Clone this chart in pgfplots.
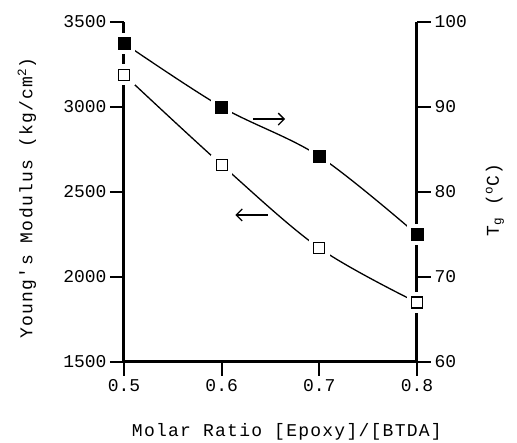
\documentclass[border=0pt]{standalone}
\usepackage{fontspec}
\setmainfont{Liberation Mono}
\newfontfamily\lblfont[LetterSpace=7]{Liberation Mono}
\usepackage{pgfplots}
\pgfplotsset{compat=1.18}
\usetikzlibrary{arrows.meta}
\pgfplotsset{
  base/.style={
    scale only axis, width=293pt, height=340pt,
    xmin=0.5, xmax=0.8, clip=false,
    /pgf/number format/assume math mode=true,
    tick label style={font=\fontsize{18}{18}\selectfont},
    tick align=outside,
    major tick length=14pt,
    every tick/.style={black, line width=2.2pt},
  },
}
\begin{document}
\begin{tikzpicture}
\path[use as bounding box] (-124pt,-81pt) rectangle (393pt,362pt);
% left axis: Young's modulus
\begin{axis}[base,
  ymin=1500, ymax=3500,
  axis x line*=bottom, axis y line*=left,
  axis line style={line width=3pt},
  xtick={0.5,0.6,0.7,0.8},
  xticklabel style={/pgf/number format/fixed, /pgf/number format/precision=1, /pgf/number format/fixed zerofill},
  ytick={1500,2000,2500,3000,3500},
  yticklabel style={/pgf/number format/1000 sep={}},
  xlabel={\lblfont Molar Ratio [Epoxy]/[BTDA]},
  ylabel={\lblfont Young's Modulus (kg/cm\textsuperscript{2})},
  every axis x label/.style={at={(axis description cs:0.556,-0.206)}, anchor=center, font=\fontsize{18}{18}\selectfont},
  every axis y label/.style={at={(axis description cs:-0.331,0.482)}, anchor=center, rotate=90, font=\fontsize{18}{18}\selectfont},
]
\addplot[black, line width=1.3pt, smooth, tension=0.55] coordinates {(0.5,3190)(0.6,2660)(0.7,2170)(0.8,1850)};
\draw[-{Straight Barb[length=6pt,width=12pt]}, line width=1.3pt] (axis cs:0.632,2929) -- (axis cs:0.665,2929);
\draw[-{Straight Barb[length=6pt,width=12pt]}, line width=1.3pt] (axis cs:0.647,2365) -- (axis cs:0.614,2365);
\end{axis}
% right axis: Tg
\begin{axis}[base,
  ymin=60, ymax=100,
  axis x line=none, axis y line*=right,
  axis line style={line width=3pt},
  ytick={60,70,80,90,100},
  ylabel={\lblfont T\textsubscript{g} (\textsuperscript{o}C)},
  every axis y label/.style={at={(axis description cs:1.266,0.476)}, anchor=center, rotate=90, font=\fontsize{18}{18}\selectfont},
]
\addplot[black, line width=1.3pt, smooth, tension=0.55] coordinates {(0.5,97.5)(0.6,90)(0.7,84.2)(0.8,75)};
\end{axis}
% overlay: modulus markers
\begin{axis}[base, ymin=1500, ymax=3500, hide axis]
\addplot[only marks, mark=square*, mark size=10pt, white] coordinates {(0.5,3190)(0.6,2660)(0.7,2170)(0.8,1850)};
\addplot[only marks, mark=square*, mark size=5.5pt, black, mark options={fill=white, line width=1.3pt}] coordinates {(0.5,3190)(0.6,2660)(0.7,2170)(0.8,1850)};
\end{axis}
% overlay: Tg markers
\begin{axis}[base, ymin=60, ymax=100, hide axis]
\addplot[only marks, mark=square*, mark size=10pt, white] coordinates {(0.5,97.5)(0.6,90)(0.7,84.2)(0.8,75)};
\addplot[only marks, mark=square*, mark size=6pt, black] coordinates {(0.5,97.5)(0.6,90)(0.7,84.2)(0.8,75)};
\end{axis}
\end{tikzpicture}
\end{document}
